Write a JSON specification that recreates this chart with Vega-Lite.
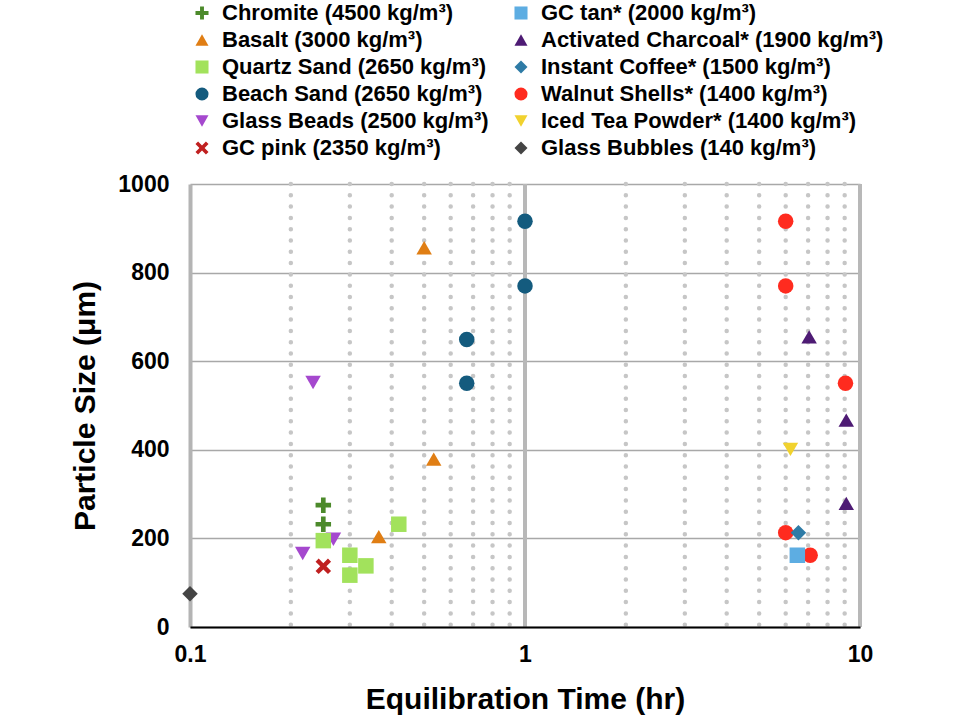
{
  "$schema": "https://vega.github.io/schema/vega-lite/v6.json",
  "width": 670,
  "height": 443,
  "autosize": "none",
  "padding": {"left": 190, "top": 184, "right": 100, "bottom": 94},
  "background": "white",
  "config": {"view": {"stroke": null}, "font": "Liberation Sans"},
  "datasets": {
    "pts": [
      {"material": "Glass Bubbles (140 kg/m³)", "time": 0.1, "size": 75},
      {"material": "Iced Tea Powder* (1400 kg/m³)", "time": 6.2, "size": 401},
      {"material": "Walnut Shells* (1400 kg/m³)", "time": 6.0, "size": 916},
      {"material": "Walnut Shells* (1400 kg/m³)", "time": 6.0, "size": 770},
      {"material": "Walnut Shells* (1400 kg/m³)", "time": 9.05, "size": 550},
      {"material": "Walnut Shells* (1400 kg/m³)", "time": 6.0, "size": 213},
      {"material": "Walnut Shells* (1400 kg/m³)", "time": 7.1, "size": 162},
      {"material": "Instant Coffee* (1500 kg/m³)", "time": 6.55, "size": 213},
      {"material": "Activated Charcoal* (1900 kg/m³)", "time": 7.05, "size": 655},
      {"material": "Activated Charcoal* (1900 kg/m³)", "time": 9.1, "size": 467},
      {"material": "Activated Charcoal* (1900 kg/m³)", "time": 9.1, "size": 279},
      {"material": "GC tan* (2000 kg/m³)", "time": 6.5, "size": 162},
      {"material": "GC pink (2350 kg/m³)", "time": 0.25, "size": 137},
      {"material": "Glass Beads (2500 kg/m³)", "time": 0.233, "size": 552},
      {"material": "Glass Beads (2500 kg/m³)", "time": 0.217, "size": 166},
      {"material": "Glass Beads (2500 kg/m³)", "time": 0.268, "size": 198},
      {"material": "Beach Sand (2650 kg/m³)", "time": 0.67, "size": 649},
      {"material": "Beach Sand (2650 kg/m³)", "time": 0.67, "size": 550},
      {"material": "Beach Sand (2650 kg/m³)", "time": 1.0, "size": 916},
      {"material": "Beach Sand (2650 kg/m³)", "time": 1.0, "size": 770},
      {"material": "Quartz Sand (2650 kg/m³)", "time": 0.25, "size": 195},
      {"material": "Quartz Sand (2650 kg/m³)", "time": 0.30, "size": 162},
      {"material": "Quartz Sand (2650 kg/m³)", "time": 0.30, "size": 117},
      {"material": "Quartz Sand (2650 kg/m³)", "time": 0.335, "size": 138},
      {"material": "Quartz Sand (2650 kg/m³)", "time": 0.42, "size": 232},
      {"material": "Basalt (3000 kg/m³)", "time": 0.366, "size": 204},
      {"material": "Basalt (3000 kg/m³)", "time": 0.50, "size": 856},
      {"material": "Basalt (3000 kg/m³)", "time": 0.534, "size": 379},
      {"material": "Chromite (4500 kg/m³)", "time": 0.25, "size": 275},
      {"material": "Chromite (4500 kg/m³)", "time": 0.25, "size": 232}
    ],
    "minor": [
      {"time": 0.2}, {"time": 0.3}, {"time": 0.4}, {"time": 0.5}, {"time": 0.6}, {"time": 0.7}, {"time": 0.8}, {"time": 0.9},
      {"time": 2}, {"time": 3}, {"time": 4}, {"time": 5}, {"time": 6}, {"time": 7}, {"time": 8}, {"time": 9}
    ],
    "major": [{"time": 1}, {"time": 10}]
  },
  "encoding": {
    "x": {
      "field": "time", "type": "quantitative",
      "scale": {"type": "log", "domain": [0.1, 10]},
      "axis": {
        "values": [0.1, 1, 10], "format": "~g", "title": "Equilibration Time (hr)",
        "titleFontSize": 30, "titleFontWeight": "bold", "titleColor": "black", "titlePadding": 18,
        "labelFontSize": 23, "labelFontWeight": "bold", "labelColor": "black", "labelPadding": 16,
        "labelFlush": false, "ticks": false, "grid": false,
        "domainColor": "black", "domainWidth": 2, "zindex": 1
      }
    }
  },
  "layer": [
    {
      "data": {"name": "minor"},
      "mark": {"type": "rule", "strokeDash": [0, 11.3], "strokeCap": "round", "strokeWidth": 4.5, "color": "#c6c6c6"}
    },
    {
      "data": {"name": "major"},
      "mark": {"type": "rule", "strokeWidth": 4, "color": "#b8b8b8"}
    },
    {
      "data": {"name": "pts"},
      "mark": {"type": "point", "filled": true, "size": 240, "opacity": 1, "strokeWidth": 0},
      "encoding": {
        "y": {
          "field": "size", "type": "quantitative",
          "scale": {"domain": [0, 1000]},
          "axis": {
            "values": [0, 200, 400, 600, 800, 1000], "format": "d", "title": "Particle Size (μm)",
            "titleFontSize": 30, "titleFontWeight": "bold", "titleColor": "black", "titlePadding": 17,
            "labelFontSize": 23, "labelFontWeight": "bold", "labelColor": "black", "labelPadding": 21,
            "ticks": false, "grid": true, "gridColor": "#a8a8a8", "gridWidth": 1.5,
            "domainColor": "#b4b4b4", "domainWidth": 4
          }
        },
        "color": {
          "field": "material", "type": "nominal",
          "scale": {
            "domain": ["Chromite (4500 kg/m³)", "Basalt (3000 kg/m³)", "Quartz Sand (2650 kg/m³)", "Beach Sand (2650 kg/m³)", "Glass Beads (2500 kg/m³)", "GC pink (2350 kg/m³)", "GC tan* (2000 kg/m³)", "Activated Charcoal* (1900 kg/m³)", "Instant Coffee* (1500 kg/m³)", "Walnut Shells* (1400 kg/m³)", "Iced Tea Powder* (1400 kg/m³)", "Glass Bubbles (140 kg/m³)"],
            "range": ["#4C8A2B", "#E07E14", "#A2E25C", "#145B7E", "#A548CE", "#C02020", "#5DADE2", "#4E1B74", "#2E7BA6", "#FF2B1F", "#F1D22E", "#444444"]
          },
          "legend": {
            "title": null, "orient": "none", "legendX": 1, "legendY": -182, "columns": 2,
            "columnPadding": 21, "rowPadding": 5, "padding": 0,
            "labelFont": "Liberation Sans", "labelFontSize": 22, "labelFontWeight": "bold", "labelColor": "black",
            "labelLimit": 500, "labelOffset": 9, "symbolSize": 170, "symbolStrokeWidth": 0
          }
        },
        "shape": {
          "field": "material", "type": "nominal",
          "scale": {
            "domain": ["Chromite (4500 kg/m³)", "Basalt (3000 kg/m³)", "Quartz Sand (2650 kg/m³)", "Beach Sand (2650 kg/m³)", "Glass Beads (2500 kg/m³)", "GC pink (2350 kg/m³)", "GC tan* (2000 kg/m³)", "Activated Charcoal* (1900 kg/m³)", "Instant Coffee* (1500 kg/m³)", "Walnut Shells* (1400 kg/m³)", "Iced Tea Powder* (1400 kg/m³)", "Glass Bubbles (140 kg/m³)"],
            "range": ["M-0.3,-1H0.3V-0.3H1V0.3H0.3V1H-0.3V0.3H-1V-0.3H-0.3Z", "triangle-up", "square", "circle", "triangle-down", "M-1,-0.6L-0.6,-1L0,-0.4L0.6,-1L1,-0.6L0.4,0L1,0.6L0.6,1L0,0.4L-0.6,1L-1,0.6L-0.4,0Z", "square", "triangle-up", "diamond", "circle", "triangle-down", "diamond"]
          },
          "legend": {
            "title": null, "orient": "none", "legendX": 1, "legendY": -182, "columns": 2,
            "columnPadding": 21, "rowPadding": 5, "padding": 0,
            "labelFont": "Liberation Sans", "labelFontSize": 22, "labelFontWeight": "bold", "labelColor": "black",
            "labelLimit": 500, "labelOffset": 9, "symbolSize": 170, "symbolStrokeWidth": 0
          }
        }
      }
    }
  ]
}
